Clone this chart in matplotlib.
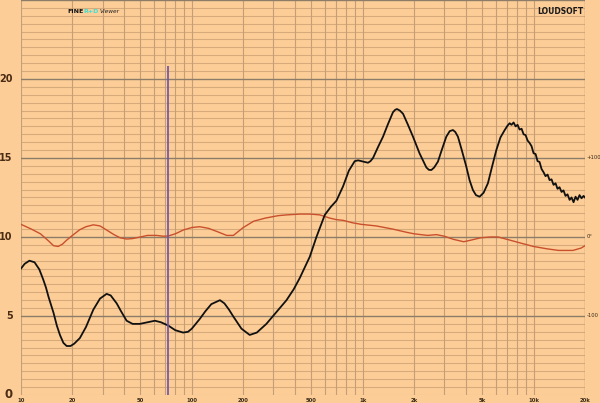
import matplotlib.pyplot as plt
import numpy as np

# magnitude curve (black)
mag_f = [10, 10.5, 11.2, 12.0, 12.8, 13.5, 14.0, 14.5, 15.0, 15.5, 16.2, 16.9, 17.7, 18.5, 19.5,
         20.5, 22.1, 24.0, 26.5, 29.0, 31.7, 33.5, 36.3, 38.5, 41.5, 45, 49.6, 55, 60.8, 66,
         72.6, 80, 88.9, 95, 100, 111, 120, 130, 146, 155, 165, 175, 195, 218, 240, 273,
         310, 358, 395, 428, 490, 536, 600, 650, 702, 767, 830, 898, 940, 983, 1030, 1074,
         1110, 1149, 1230, 1315, 1400, 1504, 1550, 1587, 1650, 1722, 1840, 1969, 2150, 2358,
         2440, 2523, 2620, 2756, 2900, 3085, 3230, 3373, 3480, 3608, 3800, 4040, 4220, 4417,
         4600, 4831, 5100, 5405, 5700, 6053, 6400,
         6761, 7042, 7244, 7430, 7640, 7850, 8060, 8280, 8510, 8740, 8980, 9230, 9480, 9730,
         10000, 10280, 10550, 10840, 11140, 11440, 11750, 12080, 12410, 12740, 13090, 13450,
         13810, 14190, 14580, 14970, 15380, 15800, 16250, 16680, 17140, 17610, 18090, 18580,
         19090, 19610, 20000]
mag_v = [8.0, 8.3, 8.5, 8.4, 7.95, 7.3, 6.8, 6.2, 5.7, 5.2, 4.4, 3.8, 3.3, 3.1, 3.1,
         3.25, 3.6, 4.3, 5.4, 6.1, 6.4, 6.3, 5.8, 5.3, 4.7, 4.5, 4.5, 4.6, 4.7, 4.6,
         4.4, 4.1, 3.95, 4.0, 4.2, 4.8, 5.3, 5.75, 6.0, 5.8, 5.4, 4.96, 4.2, 3.8, 3.95, 4.5,
         5.2, 6.0, 6.7, 7.4, 8.75, 10.0, 11.4, 11.9, 12.3, 13.2, 14.2, 14.8, 14.85, 14.8, 14.75, 14.7,
         14.8, 15.0, 15.7, 16.35, 17.1, 17.9, 18.05, 18.1, 18.0, 17.8, 17.1, 16.35, 15.3, 14.4,
         14.25, 14.24, 14.4, 14.77, 15.5, 16.35, 16.7, 16.77, 16.65, 16.35, 15.5, 14.45, 13.6, 12.97,
         12.65, 12.55, 12.8, 13.4, 14.4, 15.5, 16.3,
         16.75, 17.05, 17.2, 17.1, 17.25, 17.0, 17.1, 16.8, 16.85, 16.5, 16.45, 16.1, 15.95, 15.75,
         15.3, 15.25, 14.8, 14.75, 14.3, 14.1, 13.85, 13.95, 13.6, 13.65, 13.3, 13.4,
         13.05, 13.15, 12.85, 12.95, 12.6, 12.7, 12.35, 12.5, 12.2, 12.55, 12.35, 12.65,
         12.45, 12.6, 12.5]

# phase curve (red), plotted on the same scale (0 deg at 10, 20 deg per unit)
ph_f = [10, 11.5, 13, 14.5, 15.5, 16.5, 17.5, 18.5, 20, 22, 24, 26.5, 29, 31.6, 35, 38, 41.5,
        45, 50, 55, 62, 68, 72.6, 80, 89, 100, 111, 125, 140, 160, 175, 200, 230, 270, 320,
        360, 430, 490, 560, 640, 700, 770, 870, 980, 1200, 1500, 1800, 2000, 2400, 2700, 3000,
        3400, 3900, 4300, 4900, 5600, 6200, 7000, 8500, 10000, 12000, 14000, 17000, 19000, 20000]
ph_v = [10.8, 10.5, 10.2, 9.75, 9.45, 9.4, 9.55, 9.8, 10.1, 10.45, 10.65, 10.77, 10.7, 10.45, 10.15, 9.95, 9.87,
        9.9, 10.0, 10.1, 10.1, 10.05, 10.06, 10.2, 10.44, 10.6, 10.65, 10.55, 10.35, 10.1, 10.1, 10.6, 11.0, 11.2, 11.35,
        11.4, 11.45, 11.45, 11.4, 11.2, 11.1, 11.05, 10.9, 10.8, 10.7, 10.5, 10.3, 10.2, 10.1, 10.15, 10.05,
        9.85, 9.7, 9.8, 9.95, 10.0, 10.0, 9.85, 9.6, 9.4, 9.25, 9.15, 9.15, 9.3, 9.45]

marker_f = 72.6
marker_top = 20.8

left_ticks = [0, 5, 10, 15, 20]
right_ticks = [(15, "+100"), (10, "0°"), (5, "-100")]
x_ticks = [(10, "10"), (20, "20"), (50, "50"), (100, "100"), (200, "200"), (500, "500"),
           (1000, "1k"), (2000, "2k"), (5000, "5k"), (10000, "10k"), (20000, "20k")]

bg = "#fdcd97"
fig = plt.figure(figsize=(6, 4.03), dpi=100, facecolor=bg)
ax = fig.add_axes([0.035, 0.0199, 0.94, 0.9801])
ax.set_facecolor(bg)
ax.set_xscale("log")
ax.set_xlim(10, 20000)
ax.set_ylim(0, 25)
for s in ax.spines.values():
    s.set_visible(False)
ax.set_xticks([])
ax.set_yticks([])
ax.minorticks_off()

# grid
for y in np.arange(0.5, 25.01, 0.5):
    if y % 5 == 0:
        ax.axhline(y, color="#8c7c68", lw=1.0, zorder=1)
    else:
        ax.axhline(y, color="#d6aa7a", lw=0.8, zorder=0)
ax.axhline(0, color="#d6aa7a", lw=0.8, zorder=0)
for dec in [10, 100, 1000, 10000]:
    for k in range(1, 10):
        f = dec * k
        if f <= 20000:
            ax.axvline(f, color="#c49f75", lw=0.8, zorder=0)
ax.axvline(20000, color="#c19c72", lw=1.0, zorder=0)

ax.plot(ph_f, ph_v, color="#c9502c", lw=1.0, zorder=3)
ax.plot(mag_f, mag_v, color="#111111", lw=1.3, zorder=4)
ax.vlines(marker_f, 0, marker_top, color="#6b52a8", lw=1.2, zorder=5)

for v in left_ticks:
    ax.text(-0.015, v, str(v), transform=ax.get_yaxis_transform(), ha="right", va="center",
            fontsize=7 if v else 8.5, fontweight="bold", color="#4a2c14")
for v, lab in right_ticks:
    ax.text(1.003, v, lab, transform=ax.get_yaxis_transform(), ha="left", va="center",
            fontsize=3.8, color="#3a2a1a")
for f, lab in x_ticks:
    ax.text(f, -0.008, lab, transform=ax.get_xaxis_transform(), ha="center", va="top",
            fontsize=3.8, fontweight="bold", color="#3a2a1a", clip_on=False)

fig.text(0.112, 0.971, "FINE", fontsize=4.5, fontweight="bold", color="#111111", va="center")
fig.text(0.139, 0.971, "R+D", fontsize=4.5, fontweight="bold", color="#3fe0d4", va="center")
fig.text(0.166, 0.971, "Viewer", fontsize=4.2, fontstyle="italic", color="#222222", va="center")
fig.text(0.972, 0.971, "LOUDSOFT", fontsize=5.5, fontweight="bold", color="#1a1a1a",
         ha="right", va="center")

fig.savefig("out.png", dpi=100, facecolor=bg)
